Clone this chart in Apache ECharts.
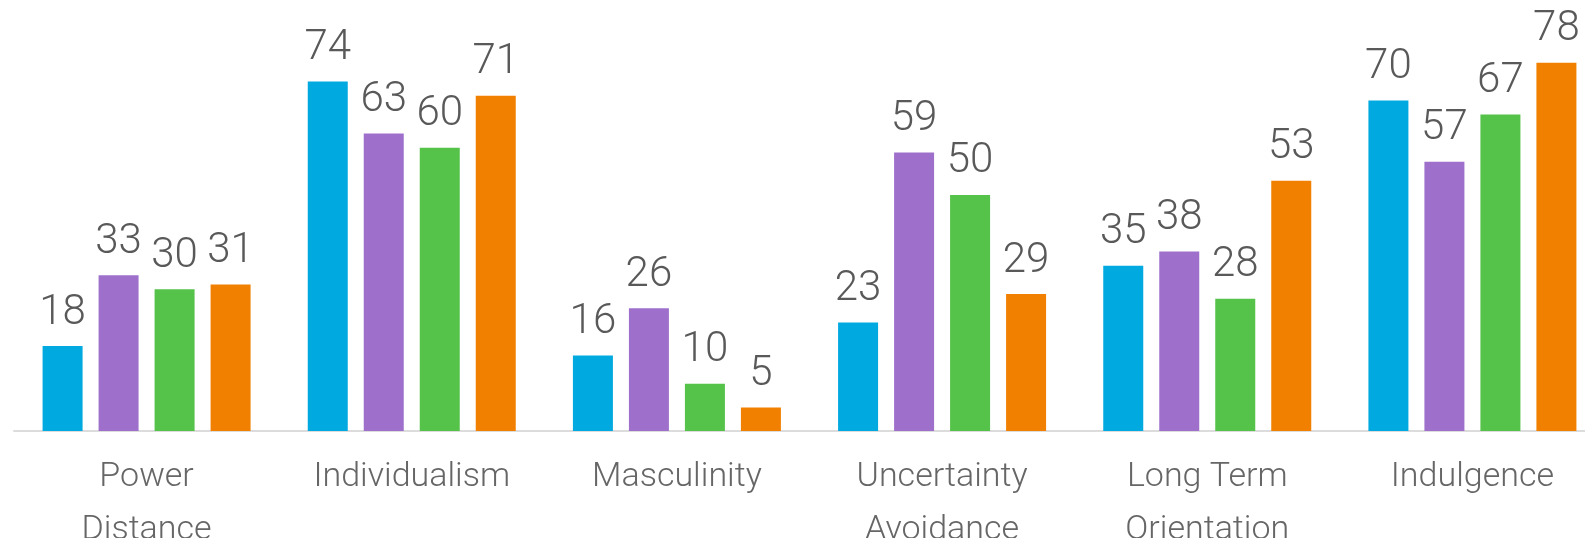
<!DOCTYPE html>
<html><head><meta charset="utf-8">
<script src="https://cdn.jsdelivr.net/npm/echarts@6/dist/echarts.min.js"></script>
<style>html,body{margin:0;padding:0;background:#fff}#c{width:1585px;height:538px}</style>
</head><body><div id="c"></div>
<script>
const categories = ["Power\nDistance", "Individualism", "Masculinity", "Uncertainty\nAvoidance", "Long Term\nOrientation", "Indulgence"];
const series1 = [18, 74, 16, 23, 35, 70];
const series2 = [33, 63, 26, 59, 38, 57];
const series3 = [30, 60, 10, 50, 28, 67];
const series4 = [31, 71, 5, 29, 53, 78];
const seriesNames = ["Series 1", "Series 2", "Series 3", "Series 4"];
const colors = ["#00a9df", "#9e70cc", "#55c24a", "#f28000"];

const chart = echarts.init(document.getElementById('c'), null, {renderer: 'canvas'});
const font = 'Roboto, "Liberation Sans", sans-serif';
const mk = (name, data, color) => ({
  name, type: 'bar', data, barWidth: 40, barGap: '40%',
  itemStyle: {color},
  label: {show: true, position: 'top', distance: 12, color: '#595959', fontSize: 42, fontFamily: font, fontWeight: 300}
});
chart.setOption({
  animation: false,
  grid: {left: 14, right: -20, top: 6, bottom: 107, containLabel: false, outerBoundsMode: 'none'},
  xAxis: {
    type: 'category', data: categories,
    axisLine: {lineStyle: {color: '#dcdcdc', width: 2}},
    axisTick: {show: false},
    axisLabel: {color: '#666666', fontSize: 34, fontFamily: font, fontWeight: 300, lineHeight: 53, margin: 20, interval: 0}
  },
  yAxis: {type: 'value', min: 0, max: 90, show: false, splitLine: {show: false}},
  series: [mk(seriesNames[0], series1, colors[0]), mk(seriesNames[1], series2, colors[1]), mk(seriesNames[2], series3, colors[2]), mk(seriesNames[3], series4, colors[3])]
});
</script></body></html>
